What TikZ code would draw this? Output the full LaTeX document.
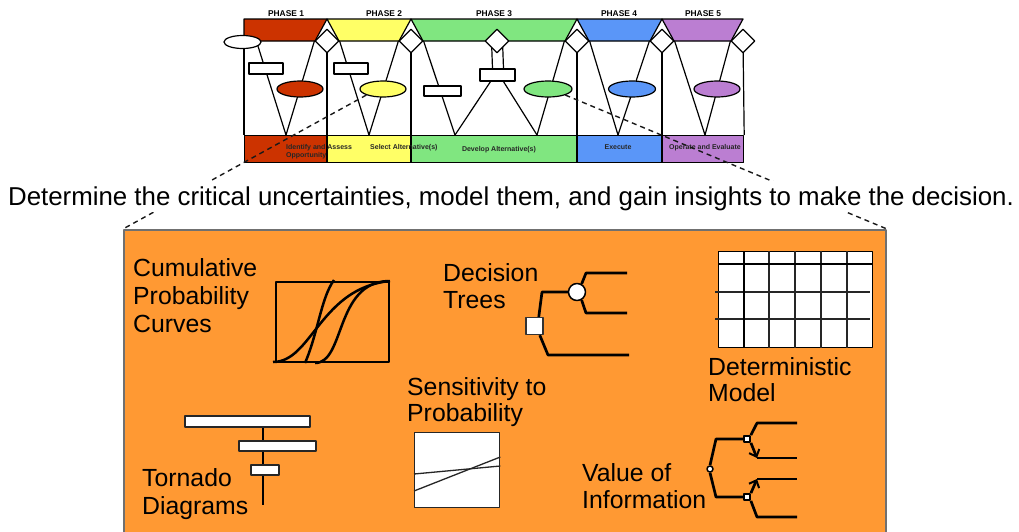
\documentclass[tikz,border=0pt]{standalone}
\usepackage{fontspec}
\setmainfont{Liberation Sans}
\usetikzlibrary{shapes.geometric,arrows.meta,calc}
\definecolor{phaseone}{HTML}{CC3300}
\definecolor{phasetwo}{HTML}{FFFF66}
\definecolor{phasethree}{HTML}{80E680}
\definecolor{phasefour}{HTML}{5A96F8}
\definecolor{phasefive}{HTML}{BB7ED2}
\definecolor{panel}{HTML}{FF9933}
\definecolor{panelrim}{HTML}{707070}
\pgfdeclarelayer{wires}
\pgfsetlayers{wires,main}
\begin{document}
\begin{tikzpicture}[x=1pt,y=-1pt,line join=round,
  diagline/.style={draw=black,line width=1.2pt},
  bandcell/.style={rectangle,draw=black,line width=1.2pt,minimum height=27pt,anchor=north west,inner sep=0pt},
  decision/.style={diamond,draw=black,fill=white,line width=1.2pt,minimum size=24pt,inner sep=0pt},
  uncert/.style={ellipse,draw=black,line width=1.2pt,minimum width=46pt,minimum height=16pt,inner sep=0pt},
  valuebox/.style={rectangle,draw=black,fill=white,line width=1.2pt,inner sep=0pt},
  arm/.style={draw=black,line width=1.2pt},
  phaselabel/.style={font=\fontsize{8.4}{9}\selectfont\bfseries,inner sep=0pt},
  bandlabel/.style={font=\fontsize{7}{8}\selectfont\bfseries,inner sep=0pt,text=black!85},
  zoomline/.style={draw=black!90,dash pattern=on 5pt off 4pt,line width=1.4pt},
  boxlabel/.style={font=\fontsize{24.8}{28.2}\selectfont,align=left,inner sep=0pt,anchor=north west},
  icon/.style={draw=black,line width=2.7pt},
  thinline/.style={draw=black!85,line width=1.3pt},
  whitecell/.style={rectangle,draw=black!85,fill=white,line width=1.3pt,inner sep=0pt},
  tip/.style={-{Straight Barb[length=6pt,width=11pt,line width=2pt]}}
]
\useasboundingbox (0,0) rectangle (1019,531);
\clip (0,0) rectangle (1019,531);

% ---------- phase headers ----------
\filldraw[fill=phaseone,diagline]   (244,19) -- (327,19) -- (315,41) -- (244,41) -- cycle;
\filldraw[fill=phasetwo,diagline]   (327,19) -- (411,19) -- (399,41) -- (339,41) -- cycle;
\filldraw[fill=phasethree,diagline] (411,19) -- (577,19) -- (565,41) -- (423,41) -- cycle;
\filldraw[fill=phasefour,diagline]  (577,19) -- (662,19) -- (650,41) -- (589,41) -- cycle;
\filldraw[fill=phasefive,diagline]  (662,19) -- (743,19) -- (731,41) -- (674,41) -- cycle;

\node[phaselabel] (ph1) at (286,14) {PHASE 1};
\node[phaselabel] (ph2) at (384,14) {PHASE 2};
\node[phaselabel] (ph3) at (494,14) {PHASE 3};
\node[phaselabel] (ph4) at (619,14) {PHASE 4};
\node[phaselabel] (ph5) at (703,14) {PHASE 5};

% ---------- bottom band ----------
\node[bandcell,fill=phaseone,minimum width=83pt]   (b1) at (244,135) {};
\node[bandcell,fill=phasetwo,minimum width=84pt]   (b2) at (327,135) {};
\node[bandcell,fill=phasethree,minimum width=166pt] (b3) at (411,135) {};
\node[bandcell,fill=phasefour,minimum width=85pt]  (b4) at (577,135) {};
\node[bandcell,fill=phasefive,minimum width=81pt]  (b5) at (662,135) {};
\draw[line width=2pt] (b2.north west) -- (b2.south west);
\draw[line width=2pt] (b3.north west) -- (b3.south west);
\draw[line width=2pt] (b4.north west) -- (b4.south west);
\draw[line width=2pt] (b5.north west) -- (b5.south west);

% ---------- decision points ----------
\node[ellipse,draw=black,fill=white,line width=1.2pt,minimum width=37pt,minimum height=13pt,inner sep=0pt] (e0) at (242.5,42) {};
\node[decision] (d1) at (327,41) {};
\node[decision] (d2) at (411,41) {};
\node[decision] (dm) at (497,41) {};
\node[decision] (d3) at (577,41) {};
\node[decision] (d4) at (662,41) {};
\node[decision] (d5) at (743,41) {};

% apexes of the V shapes
\coordinate (a1) at (286,135);
\coordinate (a2) at (369,135);
\coordinate (a3) at (455,135);
\coordinate (a4) at (537,135);
\coordinate (a5) at (618,135);
\coordinate (a6) at (705,135);

% chance nodes and value boxes
\node[uncert,fill=phaseone]   (e1) at (300,89) {};
\node[uncert,fill=phasetwo]   (e2) at (383,89) {};
\node[uncert,fill=phasethree,minimum width=48pt] (e3) at (548,89) {};
\node[uncert,fill=phasefour,minimum width=47pt]  (e4) at (632,89) {};
\node[uncert,fill=phasefive]  (e5) at (717,89) {};
\node[valuebox,minimum width=34pt,minimum height=11pt] (r1) at (266,68.5) {};
\node[valuebox,minimum width=34pt,minimum height=11pt] (r2) at (351,68.5) {};
\node[valuebox,minimum width=37pt,minimum height=10pt] (r3) at (442.5,91) {};
\node[valuebox,minimum width=35pt,minimum height=12pt] (rm) at (497.5,75) {};

\begin{pgfonlayer}{wires}
  % frame verticals
  \draw[diagline] (b1.north west |- e0.center) -- (b1.north west);
  \draw[diagline] (d1.center) -- (b2.north west);
  \draw[diagline] (d2.center) -- (b3.north west);
  \draw[diagline] (d3.center) -- (b4.north west);
  \draw[diagline] (d4.center) -- (b5.north west);
  \draw[diagline] (d5.center) -- (b5.north east);
  % V arms
  \draw[arm] (e0.-15) -- (a1);
  \draw[arm] (d1.west) -- (a1);
  \draw[arm] (d1.east) -- (a2);
  \draw[arm] (d2.west) -- (a2);
  \draw[arm] (d2.east) -- (a3);
  \draw[arm] ($(rm.south)+(-7,0)$) -- (a3);
  \draw[arm] ($(rm.south)+(6,0)$) -- (a4);
  \draw[arm] (d3.west) -- (a4);
  \draw[arm] (d3.east) -- (a5);
  \draw[arm] (d4.west) -- (a5);
  \draw[arm] (d4.east) -- (a6);
  \draw[arm] (d5.west) -- (a6);
  % double link under the middle decision
  \draw[arm] ($(dm.center)+(-5.5,0)$) -- ($(rm.north)+(-5,0)$);
  \draw[arm] ($(dm.center)+(5.5,0)$) -- ($(rm.north)+(6,0)$);
\end{pgfonlayer}

% band captions
\node[bandlabel,anchor=north west,align=left] (t1) at (286,144) {Identify and Assess\\Opportunity};
\node[bandlabel,anchor=west] (t2) at (370,147.5) {Select Alternative(s)};
\node[bandlabel] (t3) at (499,150) {Develop Alternative(s)};
\node[bandlabel] (t4) at (618,147.5) {Execute};
\node[bandlabel] (t5) at (705,147.5) {Operate and Evaluate};

% ---------- detail panel ----------
\node[rectangle,draw=panelrim,fill=panel,line width=2pt,minimum width=762pt,minimum height=340pt,anchor=north west,inner sep=0pt] (panel) at (123,229) {};

% zoom lines
\draw[zoomline] (e2.south west) -- (panel.north west);
\draw[zoomline] (e3.south east) -- (panel.north east);

\node[font=\fontsize{25.85}{30}\selectfont,fill=white,inner sep=2pt,text height=22pt,text depth=5pt,anchor=base] (msg) at (511,205)
  {Determine the critical uncertainties, model them, and gain insights to make the decision.};

% captions inside the panel
\node[boxlabel] (lcum) at (133,258) {Cumulative\\Probability\\Curves};
\node[boxlabel] (ldec) at (443,263) {Decision\\[-0.5pt]Trees};
\node[boxlabel] (ldet) at (708,357) {Deterministic\\[-1.5pt]Model};
\node[boxlabel] (lsen) at (407,377) {Sensitivity to\\[-1.5pt]Probability};
\node[boxlabel] (ltor) at (142,468) {Tornado\\Diagrams};
\node[boxlabel] (lvoi) at (582,463) {Value of\\[-1pt]Information};

% cumulative probability curves
\node[rectangle,draw=black,line width=2.5pt,minimum width=113pt,minimum height=80pt,inner sep=0pt] (cpbox) at (332.5,322) {};
\draw[black,line width=2.5pt] (273,362) .. controls (312,362) and (320,288) .. (390,281);
\draw[black,line width=2.5pt] (305,363) .. controls (318,333) and (321,298) .. (334,280);
\draw[black,line width=2.5pt] (315,363) .. controls (345,363) and (335,283) .. (388,281);

% decision tree
\node[rectangle,draw=black!80,fill=white,line width=1.3pt,minimum size=17pt,inner sep=0pt] (sq) at (534.5,326) {};
\node[circle,draw=black,fill=white,line width=1.5pt,minimum size=17pt,inner sep=0pt] (ci) at (577,292) {};
\coordinate (dtA) at (627,273);
\coordinate (dtB) at (627,313);
\coordinate (dtC) at (629,355);
\draw[icon] (sq.65) -- (542,292) -- (ci.west);
\draw[icon] (ci.60) -- (586,273) -- (dtA);
\draw[icon] (ci.-60) -- (586,313) -- (dtB);
\draw[icon] (sq.-60) -- (548,355) -- (dtC);

% deterministic model grid
\node[rectangle,draw=black,fill=white,line width=1.3pt,minimum width=154pt,minimum height=96pt,anchor=north west,inner sep=0pt] (grid) at (718,251) {};
\foreach \dx in {51,77,103,129}
  \draw[thinline] ($(grid.north west)+(\dx,0)$) -- ($(grid.south west)+(\dx,0)$);
\foreach \dy in {41,68}
  \draw[thinline] ($(grid.north west)+(-3,\dy)$) -- ($(grid.north east)+(-3,\dy)$);
\draw[black,line width=2.6pt] ($(grid.north west)+(26,0)$) -- ($(grid.south west)+(26,0)$);
\draw[black,line width=2.6pt] ($(grid.north west)+(0,13)$) -- ($(grid.north east)+(0,13)$);

% sensitivity to probability
\node[whitecell,minimum width=85pt,minimum height=75pt,anchor=north west] (sens) at (414,432) {};
\draw[thinline] ($(sens.north west)+(0,42)$) -- ($(sens.north east)+(0,34)$);
\draw[thinline] ($(sens.north west)+(0,59)$) -- ($(sens.north east)+(0,25)$);

% tornado diagram
\coordinate (ttop) at (263,427);
\coordinate (tbot) at (263,505);
\draw[black,line width=2.7pt] (ttop) -- (tbot);
\node[whitecell,minimum width=125pt,minimum height=11pt] (bar1) at (247.5,421.5) {};
\node[whitecell,minimum width=77pt,minimum height=10pt] (bar2) at (277.5,446) {};
\node[whitecell,minimum width=28pt,minimum height=10pt] (bar3) at (265,470) {};

% value of information tree
\node[circle,draw=black,fill=white,line width=1.5pt,minimum size=6pt,inner sep=0pt] (vc) at (710,469) {};
\node[rectangle,draw=black,fill=white,line width=1.8pt,minimum size=6pt,inner sep=0pt] (vs1) at (747,439) {};
\node[rectangle,draw=black,fill=white,line width=1.8pt,minimum size=6pt,inner sep=0pt] (vs2) at (747,497) {};
\coordinate (vA) at (797,423);
\coordinate (vK1) at (757,458);
\coordinate (vB) at (797,458);
\coordinate (vK2) at (757,479);
\coordinate (vC) at (797,479);
\coordinate (vD) at (797,517);
\draw[icon] (vc.north) -- (716,439) -- (vs1.west);
\draw[icon] (vs1.north east) -- (757,423) -- (vA);
\draw[icon,tip] (vs1.south east) -- (vK1);
\draw[icon] (vK1) -- (vB);
\draw[icon] (vc.south) -- (716,497) -- (vs2.west);
\draw[icon,tip] (vs2.north east) -- (vK2);
\draw[icon] (vK2) -- (vC);
\draw[icon] (vs2.south east) -- (757,517) -- (vD);
\end{tikzpicture}
\end{document}
